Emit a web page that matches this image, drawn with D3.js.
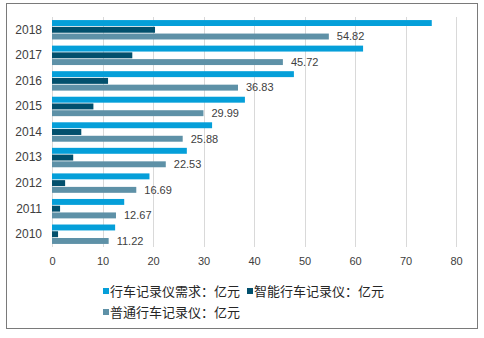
<!DOCTYPE html>
<html>
<head>
<meta charset="utf-8">
<script src="https://cdn.jsdelivr.net/npm/d3@7"></script>
<style>
  body { margin: 0; background: #fff; }
  svg { display: block; }
</style>
</head>
<body>
<svg id="chart" width="484" height="338"></svg>
<script>
const years = ["2010", "2011", "2012", "2013", "2014", "2015", "2016", "2017", "2018"];
const demand = [12.5, 14.3, 19.3, 26.7, 31.7, 38.2, 47.9, 61.6, 75.2];
const smart = [1.2, 1.6, 2.6, 4.2, 5.8, 8.2, 11.1, 15.9, 20.4];
const normal = [11.22, 12.67, 16.69, 22.53, 25.88, 29.99, 36.83, 45.72, 54.82];
const seriesNames = ["行车记录仪需求：亿元", "智能行车记录仪：亿元", "普通行车记录仪：亿元"];
const xTicks = [0, 10, 20, 30, 40, 50, 60, 70, 80];

const colors = ["#059fd9", "#02506d", "#5e91a7"];
const svg = d3.select("#chart");

// outer frame
svg.append("rect")
  .attr("x", 6.5).attr("y", 3.5)
  .attr("width", 471).attr("height", 325)
  .attr("fill", "#fff")
  .attr("stroke", "#7a7a7a");

const x = d3.scaleLinear().domain([0, 80]).range([52, 456]);
const y = d3.scaleBand().domain(years.slice().reverse()).range([17, 247]).paddingInner(0.24).paddingOuter(0.12);
const sub = d3.scaleBand().domain([0, 1, 2]).range([0, y.bandwidth()]).paddingInner(0.12);

// gridlines
svg.append("g")
  .selectAll("line")
  .data(xTicks)
  .enter()
  .append("line")
  .attr("x1", d => Math.round(x(d)) + 0.5)
  .attr("x2", d => Math.round(x(d)) + 0.5)
  .attr("y1", 17)
  .attr("y2", 247)
  .attr("stroke", "#d9d9d9");

// x tick labels
const xAxis = svg.append("g")
  .attr("transform", "translate(0,247)")
  .call(d3.axisBottom(x).tickValues(xTicks).tickSize(0).tickPadding(10));
xAxis.select(".domain").remove();
xAxis.selectAll("text")
  .attr("font-family", "Liberation Sans, Arial, sans-serif")
  .attr("font-size", 11)
  .attr("fill", "#404040");

// y labels
const yAxis = svg.append("g")
  .attr("transform", "translate(52,0)")
  .call(d3.axisLeft(y).tickSize(0).tickPadding(10));
yAxis.select(".domain").remove();
yAxis.selectAll("text")
  .attr("font-family", "Liberation Sans, Arial, sans-serif")
  .attr("font-size", 12)
  .attr("fill", "#404040");

const series = [demand, smart, normal];
series.forEach((vals, si) => {
  svg.append("g")
    .attr("fill", colors[si])
    .selectAll("rect")
    .data(vals)
    .enter()
    .append("rect")
    .attr("x", x(0))
    .attr("y", (d, i) => y(years[i]) + sub(si))
    .attr("width", d => x(d) - x(0))
    .attr("height", sub.bandwidth());
});

// value labels for normal series
svg.append("g")
  .selectAll("text")
  .data(normal)
  .enter()
  .append("text")
  .attr("x", d => x(d) + 8)
  .attr("y", (d, i) => y(years[i]) + sub(2) + sub.bandwidth() / 2)
  .attr("dy", "0.35em")
  .attr("font-family", "Liberation Sans, Arial, sans-serif")
  .attr("font-size", 11)
  .attr("fill", "#404040")
  .text(d => d.toFixed(2));

// legend
const legendPos = [[103, 291], [247, 291], [103, 312]];
const legend = svg.append("g")
  .selectAll("g")
  .data(seriesNames)
  .enter()
  .append("g")
  .attr("transform", (d, i) => `translate(${legendPos[i][0]},${legendPos[i][1]})`);

legend.append("rect")
  .attr("x", 0).attr("y", -3)
  .attr("width", 6).attr("height", 6)
  .attr("fill", (d, i) => colors[i]);

legend.append("text")
  .attr("x", 7)
  .attr("dy", "0.36em")
  .attr("font-family", "Noto Sans CJK SC, sans-serif")
  .attr("font-size", 13)
  .attr("fill", "#262626")
  .text(d => d);
</script>
</body>
</html>
